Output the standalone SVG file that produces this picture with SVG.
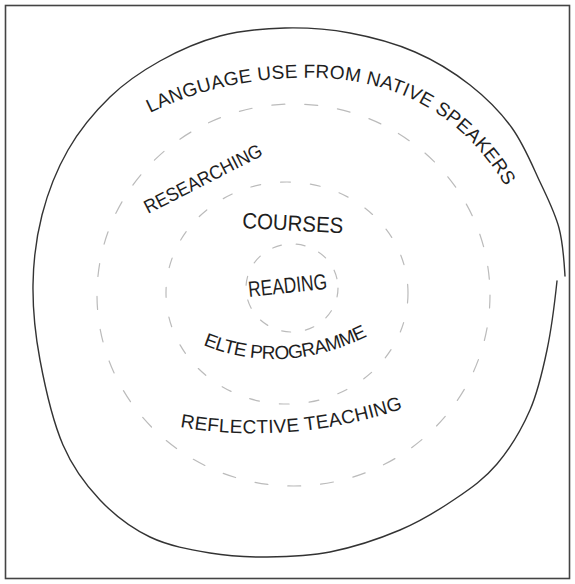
<svg xmlns="http://www.w3.org/2000/svg" width="575" height="584" viewBox="0 0 575 584">
<style>
.frame{fill:#fff;stroke:#444;stroke-width:1.6}
.solid{fill:none;stroke:#333;stroke-width:1.4;stroke-linecap:round}
.dash{fill:none;stroke:#bbbbbb;stroke-width:1.2;stroke-linecap:round}
.lbl{font-family:"Liberation Sans",Arial,sans-serif;fill:#1e1e1e;font-size:19px}
.big{font-size:22px}
</style>
<defs>
<path id="p-lang" d="M150,113 C200,88 260,76 320,78 C390,80 465,110 512,198"/>
<path id="p-elte" d="M203,345 Q285,378 372,334"/>
<path id="p-refl" d="M180,427 Q290,446 405,408"/>
</defs>
<rect class="frame" x="5.5" y="5.5" width="564" height="573"/>
<g id="ring-outer">
<path class="solid" d="M565,276 C564,260 563.2,243.7 559,228 S547.8,198.7 540,182 S523.7,144.2 512,128 S486.2,97.7 470,85 S435,60.7 415,52 S371.7,37 350,33 S306.7,27.5 285,28 S240.8,30.5 220,36 S178.3,50.8 160,61 S125.3,82.2 110,97 S79.3,130.3 68,150 S47.8,192.5 42,215 S33.3,260.8 33,285 S35,333.3 40,360 S53,421.7 63,445 S85.5,484.7 100,500 S131.7,528.2 150,537 S190.5,549.7 210,553 S247,557.2 267,557 S307.8,556.5 330,552 S379.2,538.8 400,530 S438.8,510 455,499 S484.5,478.8 497,464 S521.7,429 530,410 S542.5,371.5 547,350 S555,300 557,281"/>
<text class="lbl"><textPath href="#p-lang" textLength="400" lengthAdjust="spacing">LANGUAGE USE FROM NATIVE SPEAKERS</textPath></text>
</g>
<g id="ring-3">
<ellipse class="dash" cx="293.5" cy="295" rx="196.5" ry="191" stroke-dasharray="13 20"/>
<text class="lbl" x="148" y="214" transform="rotate(-27 148 214)" textLength="130" lengthAdjust="spacingAndGlyphs">RESEARCHING</text>
<text class="lbl"><textPath href="#p-refl" textLength="226" lengthAdjust="spacing">REFLECTIVE TEACHING</textPath></text>
</g>
<g id="ring-2">
<ellipse class="dash" cx="287" cy="293" rx="121" ry="111" stroke-dasharray="10 20"/>
<text class="lbl big" x="242" y="228" transform="rotate(3 242 228)" textLength="101" lengthAdjust="spacingAndGlyphs">COURSES</text>
<text class="lbl"><textPath href="#p-elte" textLength="170" lengthAdjust="spacing">ELTE PROGRAMME</textPath></text>
</g>
<g id="ring-1">
<ellipse class="dash" cx="292" cy="288" rx="46" ry="44" stroke-dasharray="9 15"/>
<text class="lbl big" x="249" y="297" transform="rotate(-6 249 297)" textLength="79" lengthAdjust="spacingAndGlyphs">READING</text>
</g>
<g id="connectors"/>
</svg>
